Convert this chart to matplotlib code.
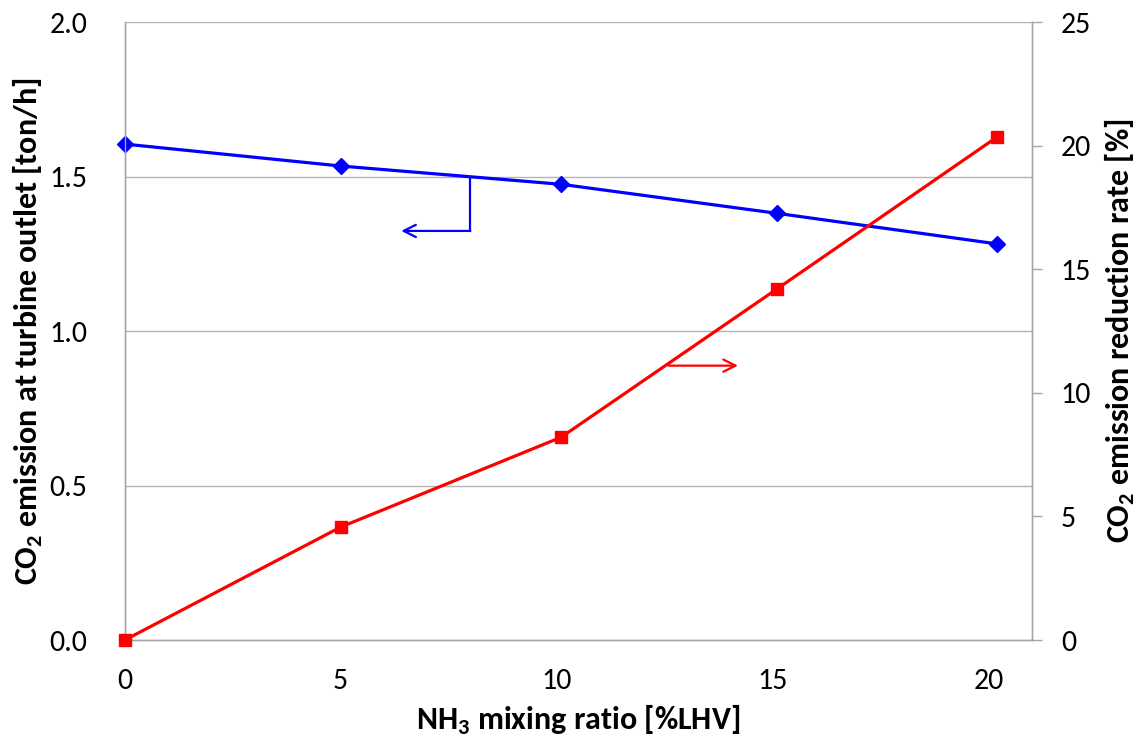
import matplotlib
matplotlib.use("Agg")
import matplotlib.pyplot as plt

plt.rcParams["font.family"] = ["Carlito", "DejaVu Sans"]
plt.rcParams["mathtext.fontset"] = "custom"
plt.rcParams["mathtext.rm"] = "Carlito"
plt.rcParams["mathtext.bf"] = "Carlito:bold"

# NH3 mixing ratio [%LHV]
mix_ratio = [0, 5.0, 10.1, 15.1, 20.2]
# CO2 emission at turbine outlet [ton/h]
co2_emission = [1.605, 1.534, 1.475, 1.381, 1.282]
# CO2 emission reduction rate [%]
reduction_rate = [0.0, 4.57, 8.2, 14.2, 20.35]

left_ticks = [0.0, 0.5, 1.0, 1.5, 2.0]
right_ticks = [0, 5, 10, 15, 20, 25]
x_ticks = [0, 5, 10, 15, 20]

grid_col = "#b4b4b4"

fig = plt.figure(figsize=(11.45, 7.47), dpi=100)
ax = fig.add_axes([0.109, 0.1432, 0.792, 0.8273])
ax2 = ax.twinx()

ax.set_xlim(0, 21)
ax.set_ylim(0, 2.0)
ax2.set_ylim(0, 25)

# grid on the left axis
for v in left_ticks[1:]:
    ax.axhline(v, color=grid_col, lw=1.0, zorder=0)

ax.plot(mix_ratio, co2_emission, color="#0000ff", lw=2.3, marker="D",
        markersize=8, clip_on=False, zorder=3)
ax2.plot(mix_ratio, reduction_rate, color="#ff0000", lw=2.3, marker="s",
         markersize=9, clip_on=False, zorder=3)

# arrows pointing at the axes
ax.plot([8.0, 8.0], [1.495, 1.324], color="#0000ff", lw=1.6)
ax.annotate("", xy=(6.4, 1.324), xytext=(8.0, 1.324),
            arrowprops=dict(arrowstyle="->", color="#0000ff", lw=1.6,
                            mutation_scale=22, shrinkA=0, shrinkB=0))
ax2.annotate("", xy=(14.2, 11.1), xytext=(12.6, 11.1),
             arrowprops=dict(arrowstyle="->", color="#ff0000", lw=1.6,
                             mutation_scale=22, shrinkA=0, shrinkB=0))

for a in (ax, ax2):
    a.spines["top"].set_visible(False)
    for s in ("left", "right", "bottom"):
        a.spines[s].set_color("#a6a6a6")
        a.spines[s].set_linewidth(1.0)

ax.set_xticks(x_ticks)
ax.set_yticks(left_ticks)
ax.set_yticklabels([f"{v:.1f}" for v in left_ticks])
ax.tick_params(axis="x", length=0, pad=20, labelsize=21.5)
ax.tick_params(axis="y", length=0, pad=27, labelsize=21.5)
ax2.set_yticks(right_ticks)
ax2.tick_params(axis="y", length=7, width=1.0, color="#a6a6a6", pad=14,
                labelsize=21.5)

ax.set_xlabel(r"NH$_\mathbf{3}$ mixing ratio [%LHV]", fontsize=23,
              fontweight="bold", labelpad=6)
ax.set_ylabel(r"CO$_\mathbf{2}$ emission at turbine outlet [ton/h]",
              fontsize=23, fontweight="bold", labelpad=3)
ax2.set_ylabel(r"CO$_\mathbf{2}$ emission reduction rate [%]",
               fontsize=23, fontweight="bold", labelpad=8)

fig.savefig("out.png", dpi=100)
